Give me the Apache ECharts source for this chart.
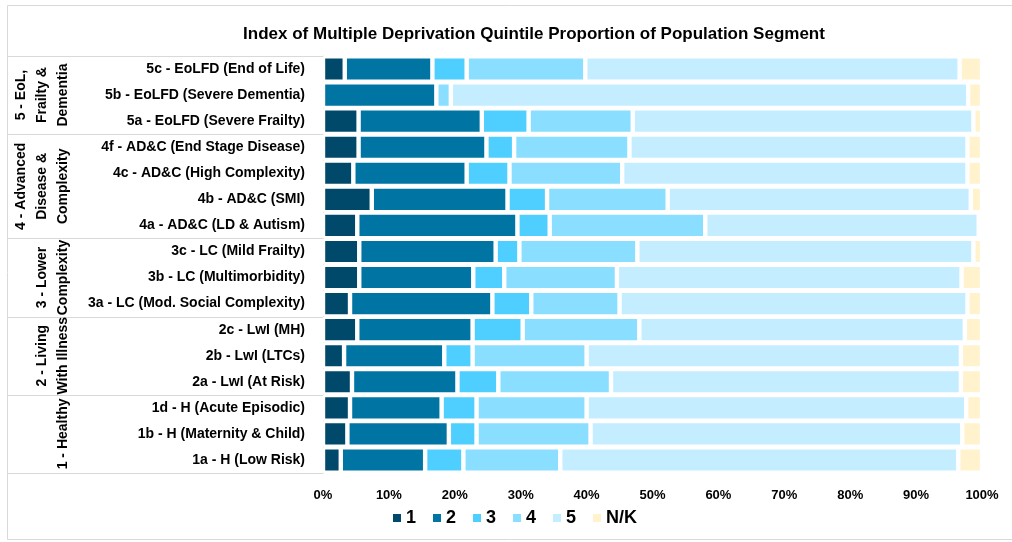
<!DOCTYPE html>
<html>
<head>
<meta charset="utf-8">
<script src="https://cdn.jsdelivr.net/npm/echarts@6/dist/echarts.min.js"></script>
<style>
  html, body { margin: 0; padding: 0; background: #fff; }
  #chart { width: 1012px; height: 542px; }
</style>
</head>
<body>
<div id="chart"></div>
<script>
// segments, top to bottom
const categories = [
  "5c - EoLFD (End of Life)", "5b - EoLFD (Severe Dementia)", "5a - EoLFD (Severe Frailty)",
  "4f - AD&C (End Stage Disease)", "4c - AD&C (High Complexity)", "4b - AD&C (SMI)", "4a - AD&C (LD & Autism)",
  "3c - LC (Mild Frailty)", "3b - LC (Multimorbidity)", "3a - LC (Mod. Social Complexity)",
  "2c - LwI (MH)", "2b - LwI (LTCs)", "2a - LwI (At Risk)",
  "1d - H (Acute Episodic)", "1b - H (Maternity & Child)", "1a - H (Low Risk)"
];
// proportion (%) in each IMD quintile
const q1 = [3.3, 0, 5.4, 5.4, 4.6, 7.4, 5.2, 5.5, 5.5, 4.1, 5.2, 3.2, 4.4, 4.1, 3.7, 2.7];
const q2 = [13.3, 17.2, 18.7, 19.4, 17.2, 20.6, 24.3, 20.7, 17.3, 21.6, 17.5, 15.2, 16.0, 13.9, 15.4, 12.8];
const q3 = [5.2, 0, 7.1, 4.2, 6.5, 6.0, 4.9, 3.6, 4.7, 5.9, 7.6, 4.3, 6.2, 5.3, 4.2, 5.8];
const q4 = [18.0, 2.2, 15.8, 17.5, 17.1, 18.3, 23.6, 17.9, 17.1, 13.4, 17.7, 17.3, 17.1, 16.7, 17.3, 14.7];
const q5 = [56.8, 78.5, 51.7, 51.3, 52.4, 46.0, 41.5, 51.0, 52.3, 52.8, 49.4, 56.8, 53.1, 57.6, 56.4, 60.4];
const nk = [3.4, 2.1, 1.3, 2.2, 2.2, 1.7, 0.5, 1.3, 3.1, 2.2, 2.6, 3.2, 3.2, 2.4, 3.0, 3.6];

const seriesNames = ["1", "2", "3", "4", "5", "N/K"];
const seriesColors = ["#00496A", "#0074A2", "#4FCFFF", "#8ADEFF", "#C4EEFF", "#FFF2CC"];
const xTicks = [0, 10, 20, 30, 40, 50, 60, 70, 80, 90, 100];

// outer category level
const groups = [
  { label: "5 - EoL,\nFrailty &\nDementia", from: 0, to: 2 },
  { label: "4 - Advanced\nDisease &\nComplexity", from: 3, to: 6 },
  { label: "3 - Lower\nComplexity", from: 7, to: 9 },
  { label: "2 - Living\nWith Illness", from: 10, to: 12 },
  { label: "1 - Healthy", from: 13, to: 15 }
];

const font = "Liberation Sans";
const chart = echarts.init(document.getElementById("chart"));

const seriesData = [q1, q2, q3, q4, q5, nk];

chart.setOption({
  animation: false,
  textStyle: { fontFamily: font },
  title: {
    text: "Index of Multiple Deprivation Quintile Proportion of Population Segment",
    left: 529,
    top: 21,
    textAlign: "center",
    textStyle: { fontSize: 17, fontWeight: "bold", color: "#000", fontFamily: font }
  },
  grid: { left: 323, right: 30, top: 56, bottom: 69 },
  legend: {
    data: seriesNames,
    left: 388,
    top: 504,
    itemWidth: 8,
    itemHeight: 8,
    itemGap: 17,
    icon: "rect",
    itemStyle: { borderWidth: 0 },
    textStyle: { fontSize: 18, fontWeight: "bold", color: "#000", fontFamily: font }
  },
  xAxis: {
    type: "value",
    min: xTicks[0],
    max: xTicks[xTicks.length - 1],
    interval: 10,
    splitLine: { show: false },
    axisLine: { show: false },
    axisTick: { show: false },
    axisLabel: {
      formatter: "{value}%",
      margin: 16,
      fontSize: 13,
      fontWeight: "bold",
      color: "#000"
    }
  },
  yAxis: {
    type: "category",
    data: categories,
    inverse: true,
    axisLine: { show: true, lineStyle: { color: "#D9D9D9" } },
    axisTick: { show: false },
    axisLabel: { margin: 18, fontSize: 14, fontWeight: "bold", color: "#000" }
  },
  series: seriesNames.map((name, i) => ({
    name: name,
    type: "bar",
    stack: "total",
    barCategoryGap: "2%",
    data: seriesData[i],
    itemStyle: { color: seriesColors[i], borderColor: "#fff", borderWidth: 2.2 }
  }))
});

// group labels and separator lines on the left
const graphics = [
  { type: "rect", shape: { x: 7.5, y: 5.5, width: 1010, height: 534 },
    style: { fill: null, stroke: "#D9D9D9", lineWidth: 1 }, silent: true }
];
const py = (i) => chart.convertToPixel({ yAxisIndex: 0 }, i);
const band = py(1) - py(0);
groups.forEach((g, k) => {
  const top = py(g.from) - band / 2;
  const bottom = py(g.to) + band / 2;
  if (k === 0) {
    graphics.push({ type: "line", shape: { x1: 7, y1: Math.round(top) + 0.5, x2: 323, y2: Math.round(top) + 0.5 },
      style: { stroke: "#D9D9D9", lineWidth: 1 }, silent: true });
  }
  graphics.push({ type: "line", shape: { x1: 7, y1: Math.round(bottom) + 0.5, x2: 323, y2: Math.round(bottom) + 0.5 },
    style: { stroke: "#D9D9D9", lineWidth: 1 }, silent: true });
  graphics.push({
    type: "text",
    x: 74,
    y: (top + bottom) / 2,
    rotation: Math.PI / 2,
    style: {
      text: g.label,
      align: "center",
      verticalAlign: "bottom",
      lineHeight: 21,
      font: "bold 14px '" + font + "'",
      fill: "#000"
    },
    silent: true
  });
});
chart.setOption({ graphic: graphics });
</script>
</body>
</html>
